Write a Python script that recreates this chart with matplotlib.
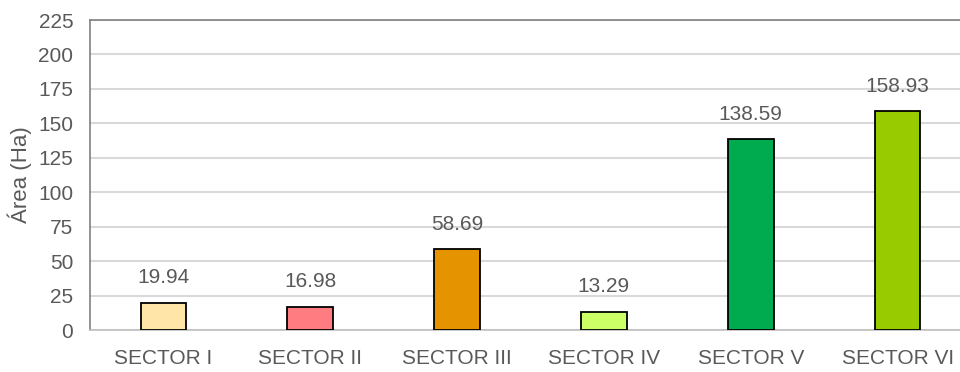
import matplotlib.pyplot as plt

sectores = ["SECTOR I", "SECTOR II", "SECTOR III", "SECTOR IV", "SECTOR V", "SECTOR VI"]
areas = [19.94, 16.98, 58.69, 13.29, 138.59, 158.93]
colores = ["#FFE5A7", "#FF7C80", "#E59400", "#CCFF66", "#00AA4E", "#99CC00"]

plt.rcParams["font.family"] = ["Liberation Sans", "DejaVu Sans"]

gris = "#595959"

fig = plt.figure(figsize=(9.6, 3.72), dpi=100)
# el marco sigue un poco más allá del borde derecho
ax = fig.add_axes([90 / 960, 42 / 372, 881 / 960, 310 / 372])

x = range(len(sectores))
ax.bar(x, areas, width=0.31, color=colores, edgecolor="black", linewidth=1.3, zorder=3)
for xi, v in zip(x, areas):
    ax.annotate(f"{v:.2f}", (xi, v), xytext=(0, 11), textcoords="offset points",
                ha="center", va="bottom", fontsize=15, color=gris)

ax.set_ylim(0, 225)
ax.set_xlim(-0.5, len(sectores) - 0.5)
ax.set_yticks(range(0, 226, 25))
ax.set_xticks(list(x))
ax.set_xticklabels(sectores)
ax.tick_params(axis="both", length=0, labelsize=15, colors=gris)
ax.tick_params(axis="x", pad=14)
ax.tick_params(axis="y", pad=12)
ax.yaxis.grid(True, color="#D9D9D9", linewidth=1.5, zorder=0)
ax.set_ylabel("Área (Ha)", fontsize=16, color=gris)
ax.yaxis.set_label_coords(-58 / 881, 0.5)

for lado in ["left", "top", "right", "bottom"]:
    ax.spines[lado].set_color("#808080")
    ax.spines[lado].set_linewidth(1.2)
ax.spines["bottom"].set_color("#BFBFBF")

fig.savefig("out.png", dpi=100)
